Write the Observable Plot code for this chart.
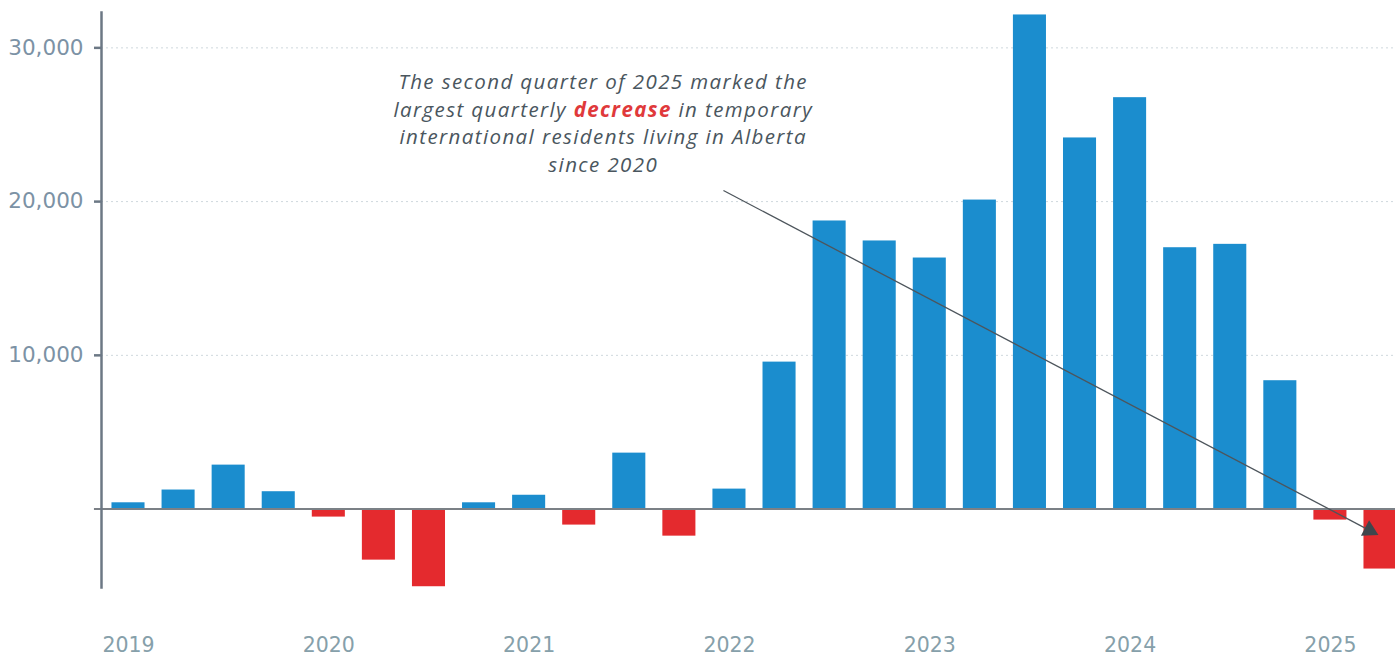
<!DOCTYPE html>
<html>
<head>
<meta charset="utf-8">
<script src="https://cdn.jsdelivr.net/npm/d3@7"></script>
<script src="https://cdn.jsdelivr.net/npm/@observablehq/plot@0.6"></script>
<style>
  html, body { margin: 0; padding: 0; background: #fff; overflow: hidden; }
  #chart svg { display: block; }
</style>
</head>
<body>
<div id="chart"></div>
<script>
const quarters = [
  "2019 Q1","2019 Q2","2019 Q3","2019 Q4",
  "2020 Q1","2020 Q2","2020 Q3","2020 Q4",
  "2021 Q1","2021 Q2","2021 Q3","2021 Q4",
  "2022 Q1","2022 Q2","2022 Q3","2022 Q4",
  "2023 Q1","2023 Q2","2023 Q3","2023 Q4",
  "2024 Q1","2024 Q2","2024 Q3","2024 Q4",
  "2025 Q1","2025 Q2"
];
const values = [
  410, 1240, 2860, 1130,
  -520, -3320, -5050, 410,
  900, -1040, 3640, -1760,
  1300, 9560, 18740, 17440,
  16330, 20100, 32140, 24140,
  26760, 17000, 17220, 8350,
  -715, -3900
];
const yTicks = [10000, 20000, 30000];
const annotationLines = [
  ["The second quarter of 2025 marked the"],
  ["largest quarterly ", "decrease", " in temporary"],
  ["international residents living in Alberta"],
  ["since 2020"]
];

const data = quarters.map((q, i) => ({q, i, value: values[i]}));
const xTicks = data.filter(d => d.q.endsWith("Q1")).map(d => d.i);

const chart = Plot.plot({
  width: 1395,
  height: 660,
  marginLeft: 101,
  marginRight: 0,
  marginTop: 12,
  marginBottom: 73,
  style: {fontFamily: "'DejaVu Sans', sans-serif", fontSize: "20px", background: "#fff"},
  x: {domain: [0, 25], range: [128, 1380], axis: null},
  y: {domain: [-5100, 32300], axis: null},
  marks: [
    Plot.ruleY(yTicks, {stroke: "#cfd8dd", strokeDasharray: "2,3", strokeWidth: 1}),
    Plot.rectY(data, {
      x1: d => d.i - 0.33,
      x2: d => d.i + 0.33,
      y: "value",
      fill: d => d.value >= 0 ? "#1b8dce" : "#e42a2e"
    }),
    Plot.ruleY([0], {x1: -0.68, x2: 26, stroke: "#7b8086", strokeWidth: 2}),
    Plot.frame({anchor: "left", stroke: "#6c7885", strokeWidth: 2.5}),
    Plot.axisY({
      ticks: yTicks, tickSize: 7, tickPadding: 11,
      tickFormat: d3.format(","),
      stroke: "#6c7885", strokeWidth: 2.5, fill: "#7c92a5", fontSize: 21.5
    }),
    Plot.axisX({
      ticks: xTicks, tickSize: 0, tickPadding: 50,
      tickFormat: i => quarters[i].slice(0, 4),
      fill: "#86a0aa", fontSize: 20.5
    }),
    Plot.link([{x1: 11.88, y1: 20720, x2: 24.78, y2: -1380}], {
      x1: "x1", y1: "y1", x2: "x2", y2: "y2",
      stroke: "#4d555c", strokeWidth: 1.3
    }),
    Plot.dot([{x: 24.78, y: -1380}], {
      x: "x", y: "y", symbol: "triangle", r: 6.5,
      fill: "#3f464d", stroke: "none", rotate: 117.75
    })
  ]
});

document.getElementById("chart").appendChild(chart);

// Annotation text placed through the chart's own scales
const sx = chart.scale("x"), sy = chart.scale("y");
const cx = sx.apply(9.49);
const y0 = sy.apply(27300);
const t = d3.select(chart).append("text")
  .attr("text-anchor", "middle")
  .attr("font-family", "'Open Sans', sans-serif")
  .attr("font-style", "italic")
  .attr("font-size", 20.5)
  .attr("letter-spacing", 1.4)
  .attr("fill", "#4a565e");
annotationLines.forEach((parts, k) => {
  const line = t.append("tspan").attr("x", cx).attr("y", y0 + k * 27.7);
  parts.forEach(p => {
    const s = line.append("tspan").text(p).attr("xml:space", "preserve");
    if (p === "decrease") s.attr("font-weight", "bold").attr("fill", "#e0393b");
  });
});
</script>
</body>
</html>
